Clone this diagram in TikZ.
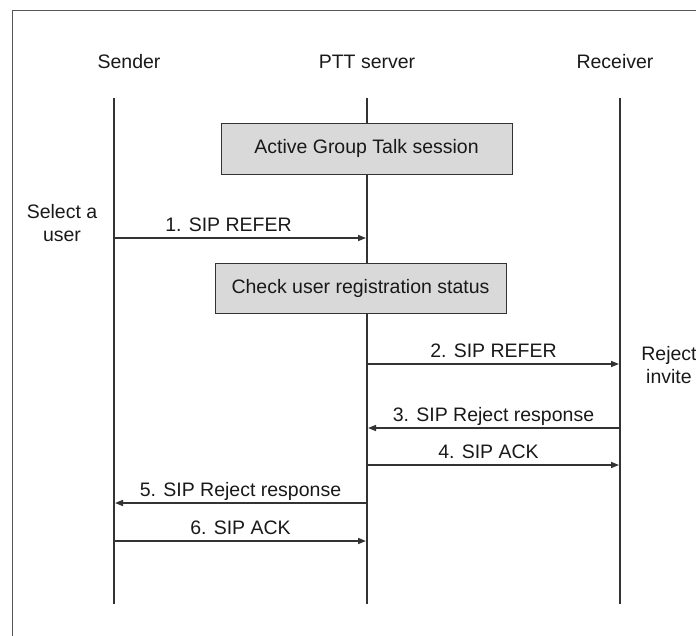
\documentclass[tikz,border=0pt]{standalone}
\usepackage{fontspec}
\setmainfont{Liberation Sans}
\usetikzlibrary{arrows.meta,positioning}
\definecolor{lineGray}{HTML}{333333}
\definecolor{frameGray}{HTML}{555555}
\definecolor{boxGray}{HTML}{D9D9D9}
\tikzset{>={Triangle[length=8pt,width=6pt]},shorten >=1pt}
\tikzset{
    every node/.style={font=\fontsize{19.5}{23}\selectfont,text=black!90},
    lifeline/.style={draw=lineGray,line width=2pt},
    msg/.style={->,draw=lineGray,line width=1.5pt},
    msglabel/.style={anchor=base,inner sep=0pt,yshift=7pt},
    actionbox/.style={draw=lineGray,fill=boxGray,line width=1pt,
        minimum width=291pt,minimum height=51pt,inner sep=0pt},
    note/.style={align=center,inner sep=0pt}
}

\begin{document}
\begin{tikzpicture}[x=1pt,y=-1pt]
    \useasboundingbox (0,0) rectangle (696,635);
    \clip (0,0) rectangle (696,635);
    \draw[frameGray,line width=1.3pt] (12.5,10.5) rectangle (720,660);

    % participants
    \node (snd) at (129,62) {Sender};
    \node (srv) at (367,62) {PTT server};
    \node (rcv) at (615,62) {Receiver};

    \coordinate (sndtop) at (114,98);  \coordinate (sndbot) at (114,605);
    \coordinate (srvtop) at (367,98);  \coordinate (srvbot) at (367,605);
    \coordinate (rcvtop) at (620,98);  \coordinate (rcvbot) at (620,605);

    \draw[lifeline] (sndtop) -- (sndbot);
    \draw[lifeline] (srvtop) -- (srvbot);
    \draw[lifeline] (rcvtop) -- (rcvbot);

    % message rows
    \coordinate (m1) at (0,238);
    \coordinate (m2) at (0,364);
    \coordinate (m3) at (0,428);
    \coordinate (m4) at (0,465);
    \coordinate (m5) at (0,503);
    \coordinate (m6) at (0,541);

    \node[actionbox] (session) at (366.5,148.5) {Active Group Talk session};
    \node[actionbox,minimum height=50pt] (check) at (360.5,288) {Check user registration status};

    \node[note] (select) at (62,223) {Select a\\user};
    \node[note] (reject) at (669,365) {Reject\\invite};

    \draw[msg] (sndtop |- m1) -- node[msglabel,xshift=-12pt] {1. SIP REFER} (srvtop |- m1);
    \draw[msg] (srvtop |- m2) -- node[msglabel] {2. SIP REFER} (rcvtop |- m2);
    \draw[msg] (rcvtop |- m3) -- node[msglabel] {3. SIP Reject response} (srvtop |- m3);
    \draw[msg] (srvtop |- m4) -- node[msglabel,xshift=-5pt] {4. SIP ACK} (rcvtop |- m4);
    \draw[msg] (srvtop |- m5) -- node[msglabel] {5. SIP Reject response} (sndtop |- m5);
    \draw[msg] (sndtop |- m6) -- node[msglabel] {6. SIP ACK} (srvtop |- m6);
\end{tikzpicture}
\end{document}
